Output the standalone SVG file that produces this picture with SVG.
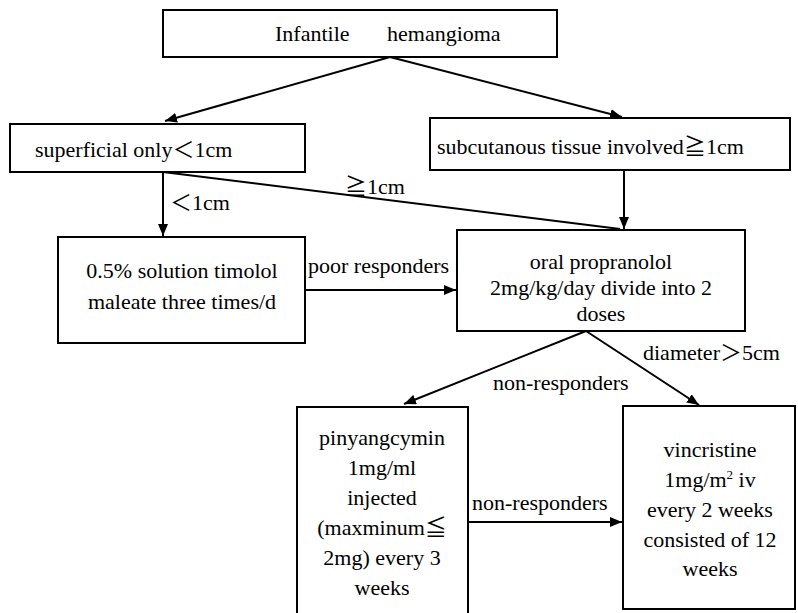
<svg xmlns="http://www.w3.org/2000/svg" width="798" height="613" viewBox="0 0 798 613" font-family="Liberation Serif" font-size="22">
<style>
.box{fill:#fff;stroke:#000;stroke-width:2}
.ln{stroke:#000;stroke-width:2;fill:none}
</style>
<defs>
<marker id="arr" viewBox="0 0 12 10" refX="12" refY="5" markerWidth="12" markerHeight="10" orient="auto" markerUnits="userSpaceOnUse">
<path d="M0,0 L12,5 L0,10 z" fill="#000"/>
</marker>
</defs>
<rect width="798" height="613" fill="#fff"/>
<g id="connectors">
<line class="ln" x1="390" y1="57" x2="165" y2="121" marker-end="url(#arr)"/>
<line class="ln" x1="390" y1="57" x2="622" y2="117" marker-end="url(#arr)"/>
<line class="ln" x1="163" y1="172" x2="163" y2="236" marker-end="url(#arr)"/>
<line class="ln" x1="163" y1="172" x2="620" y2="229"/>
<line class="ln" x1="624" y1="170" x2="624" y2="229" marker-end="url(#arr)"/>
<line class="ln" x1="305" y1="290" x2="456" y2="290" marker-end="url(#arr)"/>
<line class="ln" x1="586" y1="331" x2="404" y2="404" marker-end="url(#arr)"/>
<line class="ln" x1="586" y1="331" x2="699" y2="405" marker-end="url(#arr)"/>
<line class="ln" x1="468" y1="522" x2="622" y2="522" marker-end="url(#arr)"/>
<text font-family="Liberation Serif" x="170" y="210"><tspan font-family="Noto Sans CJK SC">＜</tspan>1cm</text>
<text font-family="Liberation Serif" x="345" y="194"><tspan font-family="Noto Sans CJK SC">≧</tspan>1cm</text>
<text font-family="Liberation Serif" x="308" y="273">poor responders</text>
<text font-family="Liberation Serif" x="493" y="390">non-responders</text>
<text font-family="Liberation Serif" x="643" y="360">diameter<tspan font-family="Noto Sans CJK SC">＞</tspan>5cm</text>
<text font-family="Liberation Serif" x="472" y="510">non-responders</text>
</g>
<g id="n-infantile">
<rect class="box" x="163" y="10" width="394" height="47"/>
<text font-family="Liberation Serif" x="275" y="41">Infantile</text>
<text font-family="Liberation Serif" x="387" y="41">hemangioma</text>
</g>
<g id="n-superficial">
<rect class="box" x="10" y="124" width="295" height="48"/>
<text font-family="Liberation Serif" x="35" y="157">superficial only<tspan font-family="Noto Sans CJK SC">＜</tspan>1cm</text>
</g>
<g id="n-subcutaneous">
<rect class="box" x="430" y="118" width="360" height="52"/>
<text font-family="Liberation Serif" x="437" y="154">subcutanous tissue involved<tspan font-family="Noto Sans CJK SC">≧</tspan>1cm</text>
</g>
<g id="n-timolol">
<rect class="box" x="58" y="237" width="247" height="106"/>
<text font-family="Liberation Serif" text-anchor="middle" x="182" y="278">0.5% solution timolol</text>
<text font-family="Liberation Serif" text-anchor="middle" x="182" y="309">maleate three times/d</text>
</g>
<g id="n-propranolol">
<rect class="box" x="457" y="230" width="288" height="101"/>
<text font-family="Liberation Serif" text-anchor="middle" x="601" y="269">oral propranolol</text>
<text font-family="Liberation Serif" text-anchor="middle" x="601" y="295">2mg/kg/day divide into 2</text>
<text font-family="Liberation Serif" text-anchor="middle" x="601" y="321">doses</text>
</g>
<g id="n-pinyangcymin">
<rect class="box" x="297" y="407" width="171" height="215"/>
<text font-family="Liberation Serif" text-anchor="middle" x="382" y="445">pinyangcymin</text>
<text font-family="Liberation Serif" text-anchor="middle" x="382" y="475">1mg/ml</text>
<text font-family="Liberation Serif" text-anchor="middle" x="382" y="505">injected</text>
<text font-family="Liberation Serif" text-anchor="middle" x="382" y="535">(maxminum<tspan font-family="Noto Sans CJK SC">≦</tspan></text>
<text font-family="Liberation Serif" text-anchor="middle" x="382" y="565">2mg) every 3</text>
<text font-family="Liberation Serif" text-anchor="middle" x="382" y="595">weeks</text>
</g>
<g id="n-vincristine">
<rect class="box" x="623" y="406" width="172" height="203"/>
<text font-family="Liberation Serif" text-anchor="middle" x="710" y="457">vincristine</text>
<text font-family="Liberation Serif" text-anchor="middle" x="710" y="487">1mg/m<tspan font-size="13" dy="-8">2</tspan><tspan dy="8"> iv</tspan></text>
<text font-family="Liberation Serif" text-anchor="middle" x="710" y="517">every 2 weeks</text>
<text font-family="Liberation Serif" text-anchor="middle" x="710" y="547">consisted of 12</text>
<text font-family="Liberation Serif" text-anchor="middle" x="710" y="576">weeks</text>
</g>
</svg>
